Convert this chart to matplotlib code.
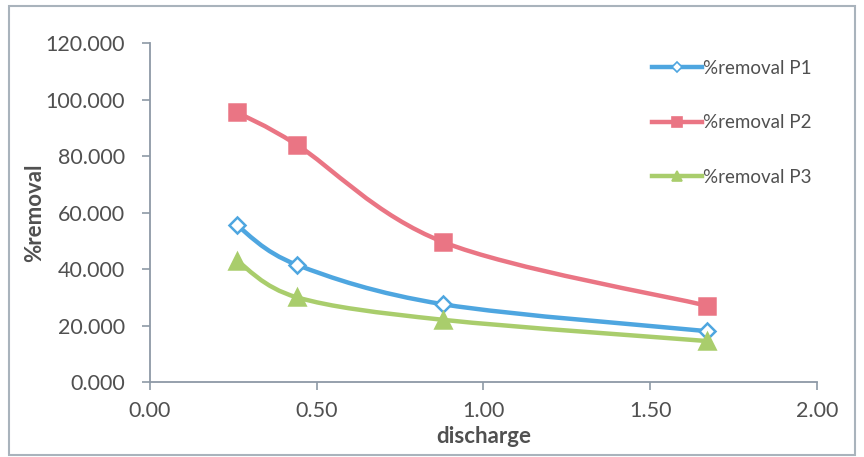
import numpy as np
import matplotlib.pyplot as plt
from matplotlib.path import Path
from matplotlib.patches import PathPatch, Rectangle
from matplotlib.lines import Line2D

plt.rcParams['font.family'] = ['Lato', 'DejaVu Sans']

discharge = [0.26, 0.44, 0.88, 1.67]
removal_p1 = [55.5, 41.5, 27.5, 18.0]
removal_p2 = [95.5, 84.0, 49.5, 27.0]
removal_p3 = [43.0, 30.0, 22.0, 14.5]
labels = ['%removal P1', '%removal P2', '%removal P3']
colors = ['#4ea6e0', '#ea7584', '#a9cd6c']
markers = ['D', 's', '^']
marker_sizes = [8, 12, 11]
xticks = [0.0, 0.5, 1.0, 1.5, 2.0]
yticks = [0, 20, 40, 60, 80, 100, 120]
text_color = '#505050'


def smooth_path(x, y):
    # Catmull-Rom style Bezier through the points, like spreadsheet smoothed lines
    pts = np.column_stack([x, y]).astype(float)
    verts = [pts[0]]
    codes = [Path.MOVETO]
    n = len(pts)
    for i in range(n - 1):
        p0 = pts[i - 1] if i > 0 else pts[i]
        p1 = pts[i]
        p2 = pts[i + 1]
        p3 = pts[i + 2] if i + 2 < n else pts[i + 1]
        c1 = p1 + (p2 - p0) / 6
        c2 = p2 - (p3 - p1) / 6
        verts += [c1, c2, p2]
        codes += [Path.CURVE4] * 3
    return Path(verts, codes)


fig = plt.figure(figsize=(8.64, 4.57), dpi=100)
fig.patches.append(Rectangle((0.01, 0.005), 0.98, 0.982, transform=fig.transFigure,
                             fill=False, edgecolor='#a9b3bc', linewidth=1.5))
ax = fig.add_axes([0.1736, 0.1641, 0.772, 0.7418])

handles = []
for ys, c, m, ms, lab in zip([removal_p1, removal_p2, removal_p3], colors, markers, marker_sizes, labels):
    ax.add_patch(PathPatch(smooth_path(discharge, ys), facecolor='none', edgecolor=c,
                           linewidth=3.2, capstyle='round', joinstyle='round', zorder=2))
    face = 'white' if m == 'D' else c
    ax.plot(discharge, ys, linestyle='none', marker=m, markersize=ms,
            markerfacecolor=face, markeredgecolor=c, markeredgewidth=1.8, zorder=3)
    handles.append(Line2D([], [], color=c, linewidth=3.2, marker=m, markersize=ms * 0.6,
                          markerfacecolor=face, markeredgecolor=c, markeredgewidth=1.2))

ax.set_xlim(0, 2)
ax.set_ylim(0, 120)
ax.set_xticks(xticks)
ax.set_xticklabels([f'{v:.2f}' for v in xticks])
ax.set_yticks(yticks)
ax.set_yticklabels([f'{v:.3f}' for v in yticks])

for side in ['top', 'right']:
    ax.spines[side].set_visible(False)
for side in ['left', 'bottom']:
    ax.spines[side].set_color('#8d99a6')
    ax.spines[side].set_linewidth(1.3)
ax.tick_params(axis='both', direction='out', length=6, width=1.2, color='#8d99a6',
               labelsize=15.5, labelcolor=text_color)
ax.tick_params(axis='y', pad=12)
ax.tick_params(axis='x', pad=8)

ax.set_xlabel('discharge', fontsize=16, fontweight='bold', color=text_color, labelpad=3)
ax.set_ylabel('%removal', fontsize=16, fontweight='bold', color=text_color, labelpad=0)

ax.legend(handles, labels, loc='upper left', bbox_to_anchor=(0.727, 1.0), frameon=False,
          fontsize=13.5, labelcolor=text_color, handlelength=2.7, handletextpad=0.05,
          labelspacing=2.0)

fig.savefig('out.png', dpi=100)
